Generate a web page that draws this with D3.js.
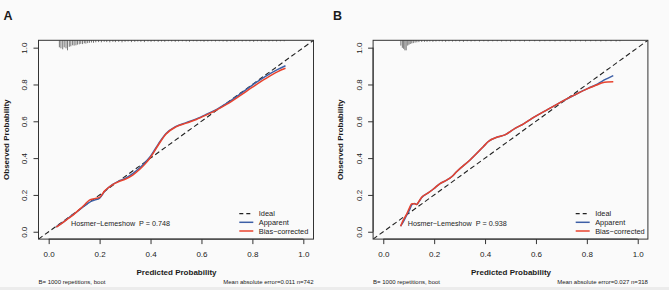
<!DOCTYPE html>
<html><head><meta charset="utf-8">
<script src="https://cdn.jsdelivr.net/npm/d3@7"></script>
<style>
html,body{margin:0;padding:0;background:#fafafa;}
svg{display:block;font-family:"Liberation Sans",Arial,Helvetica,sans-serif;}
text{white-space:pre;}
</style></head>
<body><svg id="c" width="669" height="290"></svg>
<script>
// ---------- DATA ----------
const tickValues = [0.0, 0.2, 0.4, 0.6, 0.8, 1.0];
const tickLabels = ["0.0", "0.2", "0.4", "0.6", "0.8", "1.0"];
const legendLabels = ["Ideal", "Apparent", "Bias\u2212corrected"];

// Panel A
const predA = [0.03,0.05,0.08,0.10,0.12,0.14,0.16,0.18,0.20,0.22,0.25,0.28,0.30,0.33,0.36,0.38,0.40,0.43,0.46,0.50,0.54,0.58,0.62,0.66,0.70,0.75,0.80,0.85,0.90,0.93];
const apparentA = [0.027,0.045,0.077,0.097,0.118,0.140,0.160,0.172,0.183,0.220,0.256,0.278,0.290,0.316,0.350,0.378,0.410,0.475,0.532,0.572,0.593,0.613,0.638,0.665,0.698,0.746,0.797,0.843,0.882,0.902];
const biasA = [0.025,0.044,0.075,0.096,0.120,0.145,0.172,0.180,0.187,0.222,0.255,0.275,0.285,0.308,0.342,0.370,0.405,0.470,0.530,0.570,0.590,0.610,0.635,0.662,0.693,0.738,0.785,0.830,0.870,0.888];
const rugPredA = [0.042,0.048,0.055,0.061,0.068,0.074,0.081,0.087,0.094,0.100,0.107,0.113,0.120,0.126,0.133,0.140,0.146,0.153,0.160,0.168,0.176,0.185,
  0.196,0.207,0.218,0.228,0.240,0.252,0.262,0.275,0.288,0.300,0.312,0.325,0.338,0.350,0.362,0.376,0.390,0.402,0.415,0.430,0.443,0.456,0.470,0.483,0.497,0.510,0.525,0.540,0.553,0.568,0.582,0.597,0.610,0.625,0.640,0.655,0.670,0.685,0.700,0.715,0.730,0.745,0.760,0.775,0.790,0.805,0.820,0.835,0.850,0.865,0.880,0.895,0.910,0.925];
const rugFreqA = [0.70,0.80,0.90,0.70,0.80,1.00,0.65,0.60,0.50,0.53,0.50,0.43,0.40,0.35,0.38,0.30,0.33,0.28,0.25,0.22,0.25,0.20,
  0.18,0.20,0.15,0.18,0.20,0.15,0.18,0.15,0.20,0.15,0.12,0.18,0.15,0.12,0.15,0.18,0.12,0.15,0.12,0.15,0.12,0.15,0.10,0.12,0.15,0.12,0.10,0.12,0.15,0.10,0.12,0.10,0.15,0.12,0.10,0.12,0.10,0.12,0.15,0.10,0.12,0.10,0.12,0.10,0.12,0.15,0.10,0.12,0.10,0.12,0.10,0.12,0.10,0.10];
const statsA = {hl: "Hosmer\u2212Lemeshow  P = 0.748", boot: "B= 1000 repetitions, boot", mae: "Mean absolute error=0.011 n=742"};

// Panel B
const predB = [0.068,0.079,0.092,0.103,0.112,0.122,0.131,0.140,0.151,0.175,0.197,0.223,0.249,0.270,0.288,0.341,0.393,0.413,0.452,0.478,0.518,0.550,0.596,0.650,0.701,0.750,0.806,0.839,0.858,0.880,0.904];
const apparentB = [0.030,0.055,0.090,0.118,0.146,0.154,0.148,0.163,0.186,0.210,0.232,0.262,0.280,0.300,0.326,0.390,0.462,0.490,0.516,0.526,0.562,0.585,0.625,0.667,0.707,0.742,0.780,0.800,0.816,0.832,0.848];
const biasB = [0.030,0.064,0.096,0.130,0.152,0.152,0.148,0.165,0.187,0.210,0.232,0.262,0.280,0.300,0.326,0.390,0.462,0.490,0.516,0.526,0.562,0.585,0.625,0.667,0.707,0.742,0.779,0.797,0.808,0.814,0.815];
const rugPredB = [0.069,0.075,0.080,0.085,0.090,0.096,0.101,0.106,0.112,0.118,0.125,0.132,0.140,0.151,
  0.162,0.172,0.183,0.195,0.207,0.220,0.232,0.245,0.258,0.272,0.285,0.300,0.315,0.330,0.345,0.360,0.378,0.395,0.412,0.430,0.448,0.465,0.483,0.500,0.518,0.537,0.555,0.575,0.595,0.615,0.635,0.655,0.675,0.695,0.715,0.735,0.755,0.775,0.795,0.815,0.835,0.855,0.875,0.895,0.915,0.930];
const rugFreqB = [0.53,0.75,0.85,1.00,1.00,0.53,0.44,0.37,0.31,0.28,0.23,0.20,0.18,0.16,
  0.15,0.15,0.12,0.15,0.12,0.10,0.12,0.15,0.10,0.12,0.10,0.12,0.15,0.10,0.12,0.10,0.12,0.10,0.12,0.10,0.10,0.12,0.10,0.12,0.10,0.10,0.12,0.10,0.10,0.12,0.10,0.10,0.12,0.10,0.10,0.12,0.10,0.10,0.12,0.10,0.10,0.12,0.10,0.10,0.12,0.10];
const statsB = {hl: "Hosmer\u2212Lemeshow  P = 0.938", boot: "B= 1000 repetitions, boot", mae: "Mean absolute error=0.027 n=318"};

// ---------- DRAW ----------
const svg = d3.select("#c");
const BLUE = "#3d5fa6", RED = "#e8432e", INK = "#1a1a1a";

function panel(opt) {
  const x = d3.scaleLinear().domain([-0.04, 1.04]).range([opt.x0, opt.x1]);
  const y = d3.scaleLinear().domain([-0.04, 1.04]).range([239.1, 40.3]);
  const g = svg.append("g");
  const [xl, xr] = x.range(), [yb, yt] = y.range();

  g.append("text").attr("x", opt.letterX).attr("y", 19.5).attr("font-size", 12.5)
    .attr("font-weight", "bold").attr("fill", INK).text(opt.letter);

  const clipId = "clip" + opt.letter;
  g.append("clipPath").attr("id", clipId).append("rect")
    .attr("x", xl).attr("y", yt).attr("width", xr - xl).attr("height", yb - yt);

  // ideal line
  g.append("line").attr("clip-path", `url(#${clipId})`)
    .attr("x1", x(-0.04)).attr("y1", y(-0.04)).attr("x2", x(1.04)).attr("y2", y(1.04))
    .attr("stroke", "#222").attr("stroke-width", 1.1).attr("stroke-dasharray", "5,3");

  // rug
  const h = d3.scaleLinear().domain([0, 1]).range([0, 10]);
  g.selectAll(".rug").data(opt.rugP.map((p, i) => [p, opt.rugF[i]])).enter().append("line")
    .attr("x1", d => x(d[0])).attr("x2", d => x(d[0]))
    .attr("y1", yt).attr("y2", d => yt + h(d[1]))
    .attr("stroke", "#555").attr("stroke-width", 0.8);

  const line = d3.line().x(d => x(d[0])).y(d => y(d[1])).curve(d3.curveMonotoneX);
  g.append("path").datum(opt.pred.map((p, i) => [p, opt.app[i]])).attr("d", line)
    .attr("fill", "none").attr("stroke", BLUE).attr("stroke-width", 1.5);
  g.append("path").datum(opt.pred.map((p, i) => [p, opt.bc[i]])).attr("d", line)
    .attr("fill", "none").attr("stroke", RED).attr("stroke-width", 1.5);

  // box
  g.append("rect").attr("x", xl).attr("y", yt).attr("width", xr - xl).attr("height", yb - yt)
    .attr("fill", "none").attr("stroke", "#333").attr("stroke-width", 1);

  // axes
  const xAxis = d3.axisBottom(x).tickValues(tickValues).tickFormat((d, i) => tickLabels[i]).tickSize(5).tickPadding(3);
  const xg = g.append("g").attr("transform", `translate(0,${yb})`).call(xAxis);
  xg.select(".domain").attr("d", `M${x(0)},0H${x(1)}`).attr("stroke", "#333");
  xg.selectAll(".tick line").attr("stroke", "#333");
  xg.selectAll("text").attr("font-size", 8).attr("fill", "#222").attr("font-family", null).attr("dy", null).attr("y", 17.5);

  const yAxis = d3.axisLeft(y).tickValues(tickValues).tickFormat((d, i) => tickLabels[i]).tickSize(5);
  const yg = g.append("g").attr("transform", `translate(${xl},0)`).call(yAxis);
  yg.select(".domain").attr("d", `M0,${y(0)}V${y(1)}`).attr("stroke", "#333");
  yg.selectAll(".tick line").attr("stroke", "#333");
  yg.selectAll("text").attr("font-size", 8).attr("fill", "#222").attr("font-family", null)
    .attr("x", null).attr("dy", null).attr("text-anchor", "middle")
    .attr("transform", `translate(${opt.yTickBase - xl},0) rotate(-90)`);

  // axis titles
  g.append("text").attr("x", (x(0) + x(1)) / 2 + 0.5).attr("y", 274.5).attr("text-anchor", "middle")
    .attr("font-size", 8).attr("font-weight", "bold").attr("fill", INK).text("Predicted Probability");
  g.append("text").attr("transform", `translate(${opt.yTitleBase},${(yt + yb) / 2}) rotate(-90)`)
    .attr("text-anchor", "middle").attr("font-size", 8).attr("font-weight", "bold").attr("fill", INK)
    .text("Observed Probability");

  // HL text
  g.append("text").attr("x", opt.hlX).attr("y", 225.5).attr("font-size", 7.2).attr("fill", "#222")
    .attr("xml:space", "preserve").text(opt.stats.hl);

  // legend
  const lg = g.append("g");
  const styles = [{c: "#222", dash: "4,3", w: 1.2}, {c: BLUE, dash: null, w: 1.5}, {c: RED, dash: null, w: 1.5}];
  const rows = [213.7, 222.3, 231];
  legendLabels.forEach((lab, i) => {
    lg.append("line").attr("x1", opt.legX).attr("x2", opt.legX + 14).attr("y1", rows[i]).attr("y2", rows[i])
      .attr("stroke", styles[i].c).attr("stroke-width", styles[i].w).attr("stroke-dasharray", styles[i].dash);
    lg.append("text").attr("x", opt.legX + 19.5).attr("y", rows[i] + 2.6).attr("font-size", 7.4).attr("fill", "#222").text(lab);
  });

  // footer
  g.append("text").attr("x", xl).attr("y", 284).attr("font-size", 6).attr("fill", "#222").text(opt.stats.boot);
  g.append("text").attr("x", xr).attr("y", 284).attr("text-anchor", "end").attr("font-size", 6).attr("fill", "#222").text(opt.stats.mae);
}

panel({letter: "A", letterX: 3.5, x0: 38.5, x1: 313.5, yTickBase: 27, yTitleBase: 8.5, hlX: 71, legX: 239.3,
  pred: predA, app: apparentA, bc: biasA, rugP: rugPredA, rugF: rugFreqA, stats: statsA});
panel({letter: "B", letterX: 333, x0: 373.1, x1: 647.9, yTickBase: 361.5, yTitleBase: 342.5, hlX: 407.7, legX: 575.7,
  pred: predB, app: apparentB, bc: biasB, rugP: rugPredB, rugF: rugFreqB, stats: statsB});

svg.append("rect").attr("x", 0).attr("y", 287).attr("width", 669).attr("height", 3).attr("fill", "#ececec");
</script></body></html>
